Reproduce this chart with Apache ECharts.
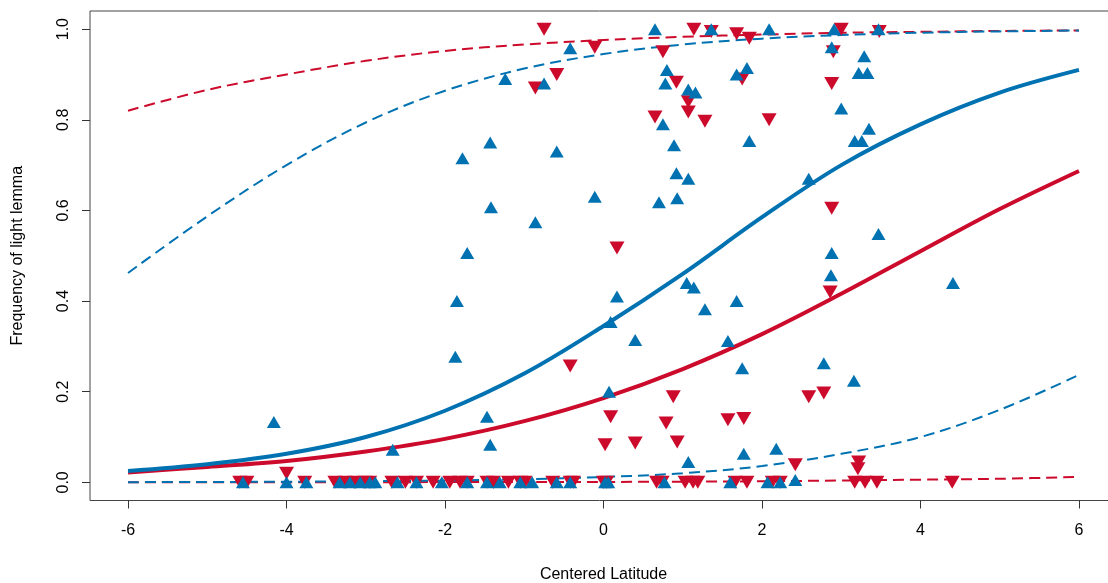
<!DOCTYPE html>
<html>
<head>
<meta charset="utf-8">
<script src="https://cdn.jsdelivr.net/npm/echarts@6/dist/echarts.min.js"></script>
<style>
html,body{margin:0;padding:0;background:#fff;}
#chart{width:1108px;height:583px;}
</style>
</head>
<body>
<div id="chart"></div>
<script>
// ---- tick labels ----
const xTicks = [-6, -4, -2, 0, 2, 4, 6];
const yTicks = [0, 0.2, 0.4, 0.6, 0.8, 1.0];

// ---- fitted curves (read at integer x) ----
const curveX      = [-6, -5, -4, -3, -2, -1, 0, 1, 2, 3, 4, 5, 6];
const blueFit     = [0.025, 0.040, 0.063, 0.100, 0.158, 0.240, 0.345, 0.460, 0.585, 0.700, 0.790, 0.860, 0.910];
const blueUpper   = [0.462, 0.587, 0.700, 0.794, 0.864, 0.913, 0.945, 0.966, 0.979, 0.987, 0.992, 0.995, 0.997];
const blueLower   = [0.0005, 0.0008, 0.0015, 0.0025, 0.004, 0.007, 0.012, 0.020, 0.036, 0.063, 0.100, 0.160, 0.237];
const redFit      = [0.022, 0.034, 0.047, 0.068, 0.096, 0.135, 0.186, 0.250, 0.327, 0.416, 0.510, 0.603, 0.687];
const redUpper    = [0.820, 0.866, 0.900, 0.930, 0.952, 0.966, 0.976, 0.983, 0.988, 0.992, 0.994, 0.996, 0.997];
const redLower    = [0.0001, 0.0002, 0.0003, 0.0004, 0.0006, 0.0008, 0.001, 0.0015, 0.0025, 0.004, 0.006, 0.008, 0.012];

// ---- observed points: blue (upward triangles) ----
const blueX = [-0.42, -1.24, -0.75, -1.43, -1.78, -0.59, -0.11, -1.42, -0.86, -1.72, -1.85, -1.87, -1.47, -1.43, -2.66, -4.16,
  0.65, 1.36, 2.09, 2.91, 2.88, 0.80, 1.68, 1.81, 0.78, 1.07, 1.16, 0.75, 3.00, 0.89, 1.84, 0.92, 1.07, 0.70, 0.93, 2.59, 2.88,
  3.47, 3.29, 3.22, 3.33, 3.35, 3.17, 3.26, 3.47, 4.41, 3.16,
  2.87, 1.05, 1.14, 0.17, 1.68, 1.28, 0.09, 0.40, 1.57, 1.75, 2.78, 0.07, 1.07, 1.77, 2.18, 2.42,
  -4.55, -4.00, -3.75, -3.33, -3.20, -3.07, -2.95, -2.88, -2.60, -2.36, -2.04, -1.72, -1.47, -1.31, -1.05, -0.90, -0.59, -0.42, 0.02, 0.06, 0.77, 1.60, 2.07, 2.23];
const blueY = [0.958, 0.890, 0.880, 0.750, 0.715, 0.730, 0.630, 0.607, 0.574, 0.506, 0.400, 0.277, 0.145, 0.083, 0.072, 0.133,
  1.0, 1.0, 1.0, 1.0, 0.960, 0.910, 0.900, 0.914, 0.880, 0.867, 0.860, 0.790, 0.825, 0.744, 0.753, 0.682, 0.670, 0.618, 0.627, 0.670, 0.506,
  1.0, 0.940, 0.903, 0.903, 0.780, 0.753, 0.753, 0.548, 0.440, 0.224,
  0.457, 0.440, 0.430, 0.410, 0.400, 0.382, 0.354, 0.314, 0.312, 0.252, 0.263, 0.200, 0.045, 0.063, 0.074, 0.005,
  0, 0, 0, 0, 0, 0, 0, 0, 0, 0, 0, 0, 0, 0, 0, 0, 0, 0, 0, 0, 0, 0, 0, 0];

// ---- observed points: red (downward triangles) ----
const redX = [-0.75, -0.11, -0.59, -0.86, -0.42, -4.00,
  1.14, 1.36, 1.68, 1.84, 3.00, 0.75, 2.90, 1.75, 0.92, 1.07, 1.07, 2.88, 0.65, 1.28, 2.09, 2.88, 0.17, 3.48,
  2.86, 0.88, 2.59, 2.78, 0.09, 0.79, 1.57, 1.77, 0.02, 0.40, 0.93, 2.42, 3.22, 3.21,
  -4.59, -4.50, -3.77, -3.39, -3.26, -3.14, -3.01, -2.95, -2.67, -2.50, -2.36, -2.15, -1.94, -1.81, -1.72, -1.47, -1.39, -1.20, -1.05, -0.99, -0.64, -0.42, -0.38, 0.00, 0.04, 0.67, 0.74, 1.03, 1.13, 1.19, 1.66, 1.81, 2.13, 2.23, 3.17, 3.30, 3.45, 4.40];
const redY = [1.0, 0.960, 0.900, 0.870, 0.257, 0.020,
  1.0, 0.995, 0.990, 0.980, 1.0, 0.950, 0.950, 0.890, 0.883, 0.840, 0.817, 0.880, 0.806, 0.797, 0.800, 0.605, 0.517, 0.995,
  0.420, 0.189, 0.189, 0.197, 0.145, 0.131, 0.138, 0.141, 0.083, 0.087, 0.089, 0.039, 0.045, 0.030,
  0, 0, 0, 0, 0, 0, 0, 0, 0, 0, 0, 0, 0, 0, 0, 0, 0, 0, 0, 0, 0, 0, 0, 0, 0, 0, 0, 0, 0, 0, 0, 0, 0, 0, 0, 0, 0, 0];

const BLUE = '#0072B2';
const RED = '#CC0A2C';
const FONT = '"Liberation Sans", Arial, sans-serif';

const pairs = (xs, ys) => xs.map((x, i) => [x, ys[i]]);

function curve(ys, color, dashed, z) {
  return {
    type: 'line', data: pairs(curveX, ys), smooth: 0.35, showSymbol: false, symbol: 'none',
    lineStyle: dashed ? {color: color, width: 2, type: [11, 6]} : {color: color, width: 4},
    z: z, silent: true
  };
}

const chart = echarts.init(document.getElementById('chart'), null, {renderer: 'canvas'});
chart.setOption({
  animation: false,
  backgroundColor: '#fff',
  grid: {left: 90, top: 11, width: 1027, height: 489.5, show: true, borderColor: '#444', borderWidth: 1,
    backgroundColor: 'transparent', containLabel: false, outerBoundsMode: 'none'},
  xAxis: {
    type: 'value', min: -6.48, max: 6.48,
    name: 'Centered Latitude', nameLocation: 'middle', nameGap: 66,
    nameTextStyle: {fontFamily: FONT, fontSize: 16, color: '#000'},
    axisLine: {show: false, onZero: false},
    axisTick: {show: true, customValues: xTicks, length: 8, lineStyle: {color: '#333', width: 1}},
    axisLabel: {customValues: xTicks, margin: 22, fontFamily: FONT, fontSize: 16, color: '#000'},
    splitLine: {show: false}
  },
  yAxis: {
    type: 'value', min: -0.04, max: 1.04,
    name: 'Frequency of light lemma', nameLocation: 'middle', nameGap: 64,
    nameTextStyle: {fontFamily: FONT, fontSize: 16, color: '#000'},
    axisLine: {show: false, onZero: false},
    axisTick: {show: true, customValues: yTicks, length: 8, lineStyle: {color: '#333', width: 1}},
    axisLabel: {customValues: yTicks, rotate: 90, margin: 18, fontFamily: FONT, fontSize: 16, color: '#000',
      formatter: v => v.toFixed(1)},
    splitLine: {show: false}
  },
  series: [
    curve(redUpper, RED, true, 2),
    curve(redLower, RED, true, 2),
    curve(blueUpper, BLUE, true, 2),
    curve(blueLower, BLUE, true, 2),
    curve(redFit, RED, false, 2),
    curve(blueFit, BLUE, false, 2),
    {type: 'scatter', data: pairs(redX, redY), symbol: 'triangle', symbolRotate: 180, symbolSize: [15, 13],
      itemStyle: {color: RED, opacity: 1}, z: 3, silent: true},
    {type: 'scatter', data: pairs(blueX, blueY), symbol: 'triangle', symbolSize: [14, 12],
      itemStyle: {color: BLUE, opacity: 1}, z: 4, silent: true}
  ]
});
</script>
</body>
</html>
